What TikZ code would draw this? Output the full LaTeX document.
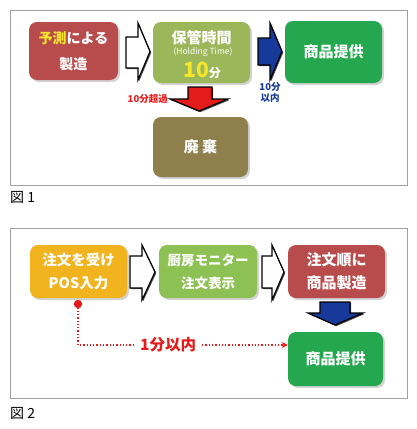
\documentclass[tikz,border=0pt]{standalone}
\usepackage{fontspec}
\setmainfont{Noto Sans CJK JP}
\usetikzlibrary{shadows,arrows.meta}
\definecolor{cRed}{HTML}{B84C4C}
\definecolor{cOlive}{HTML}{9BB75A}
\definecolor{cGreen}{HTML}{25A74F}
\definecolor{cBrown}{HTML}{8E7F4D}
\definecolor{cOrange}{HTML}{F1B41F}
\definecolor{cLight}{HTML}{8DC153}
\definecolor{cBlue}{HTML}{17399A}
\definecolor{cArrRed}{HTML}{E41B1B}
\definecolor{cYel}{HTML}{F6E62B}
\definecolor{cFrame}{HTML}{A0A0A0}
\begin{document}
\begin{tikzpicture}[x=1pt,y=-1pt,
  box/.style={rounded corners=8pt, inner sep=0pt, align=center, text=white,
    font=\bfseries\fontsize{15}{24}\selectfont,
    drop shadow={opacity=0.35, shadow xshift=2pt, shadow yshift=-2pt}},
  blockarrow/.style={line width=1.2pt, draw=black, line join=miter,
    drop shadow={opacity=0.7, fill=black, shadow xshift=1.2pt, shadow yshift=-1.2pt}},
  frame/.style={draw=cFrame, line width=0.8pt},
  figcap/.style={font=\fontsize{14}{16}\selectfont, anchor=west, inner sep=0pt},
  small/.style={font=\bfseries\fontsize{9.5}{12}\selectfont, inner sep=0pt, align=center}]
\useasboundingbox (0,0) rectangle (417,429);
% frames
\draw[frame] (10,10) rectangle (407,185);
\draw[frame] (10,228) rectangle (407,398);
\node[figcap] (cap1) at (10,197) {図 1};
\node[figcap] (cap2) at (10,413) {図 2};

% ---------- Figure 1 ----------
\node[box, fill=cRed, minimum width=89pt, minimum height=58pt, font=\bfseries\fontsize{14}{26}\selectfont] (f1a) at (73.5,51)
  {{\color{cYel}予測}による\\製造};
\node[box, fill=cOlive, minimum width=97pt, minimum height=61pt] (f1b) at (201.5,52.5) {};
\node[text=white, font=\bfseries\fontsize{15}{17}\selectfont, inner sep=0pt] (f1bt1) at (201.5,38) {保管時間};
\node[text=white, font=\fontsize{8.5}{10}\selectfont, inner sep=0pt] (f1bt2) at (203,52.5) {(Holding Time)};
\node[text=white, font=\bfseries\fontsize{12}{14}\selectfont, inner sep=0pt, anchor=base] (f1bt3) at (202,77)
  {{\color{cYel}\fontsize{21}{22}\selectfont 10}分};
\node[box, fill=cGreen, minimum width=97pt, minimum height=62pt] (f1c) at (333.5,52) {商品提供};
\node[box, fill=cBrown, minimum width=95pt, minimum height=60pt] (f1d) at (200.5,147) {廃 棄};

% block arrows fig 1
\path[blockarrow, fill=white] (126,37) -- (138,37) -- (138,23) -- (150,51.5) -- (138,80) -- (138,68) -- (126,68) -- cycle;
\path[blockarrow, fill=cBlue] (258,38) -- (270,38) -- (270,23) -- (282,51.5) -- (270,80) -- (270,65) -- (258,65) -- cycle;
\path[blockarrow, fill=cArrRed] (188,87) -- (212,87) -- (212,99) -- (228,99) -- (199,111) -- (170,99) -- (188,99) -- cycle;

\node[small, text=cArrRed, anchor=east] (lbl1) at (168,99) {10分超過};
\node[small, text=cBlue, font=\bfseries\fontsize{9.5}{11.5}\selectfont] (lbl2) at (270,92.5) {10分\\以内};

% ---------- Figure 2 ----------
\node[box, fill=cOrange, minimum width=97pt, minimum height=53pt, font=\bfseries\fontsize{14.5}{23}\selectfont] (f2a) at (78.5,271.5) {注文を受け\\POS入力};
\node[box, fill=cLight, minimum width=98pt, minimum height=53pt, font=\bfseries\fontsize{13.5}{23}\selectfont] (f2b) at (208,271.5) {厨房モニター\\注文表示};
\node[box, fill=cRed, minimum width=97pt, minimum height=53pt, font=\bfseries\fontsize{15}{23}\selectfont] (f2c) at (336.5,271.5) {注文順に\\商品製造};
\node[box, fill=cGreen, minimum width=95pt, minimum height=54pt] (f2d) at (335.5,359) {商品提供};

\path[blockarrow, fill=white] (130,256) -- (142,256) -- (142,245) -- (155,272) -- (142,300) -- (142,288) -- (130,288) -- cycle;
\path[blockarrow, fill=white] (262,256) -- (272,256) -- (272,245) -- (284,272) -- (272,300) -- (272,288) -- (262,288) -- cycle;
\path[blockarrow, fill=cBlue] (320,302) -- (350,302) -- (350,313) -- (363,313) -- (335,325) -- (308,313) -- (320,313) -- cycle;

% dotted timeline
\fill[cArrRed] (78,304) circle (4.2pt);
\coordinate (dot) at (78,304);
\coordinate (corner) at (78,345);
\draw[cArrRed, line width=1.3pt, dotted, -{Stealth[length=6pt,width=6pt]}]
  (dot) -- (corner) -- (f2d.west |- corner)
  node[pos=0.43, fill=white, text=cArrRed, font=\bfseries\fontsize{15.5}{17}\selectfont, inner xsep=5pt, inner ysep=1pt, solid] (lbl3) {1分以内};
\end{tikzpicture}
\end{document}
